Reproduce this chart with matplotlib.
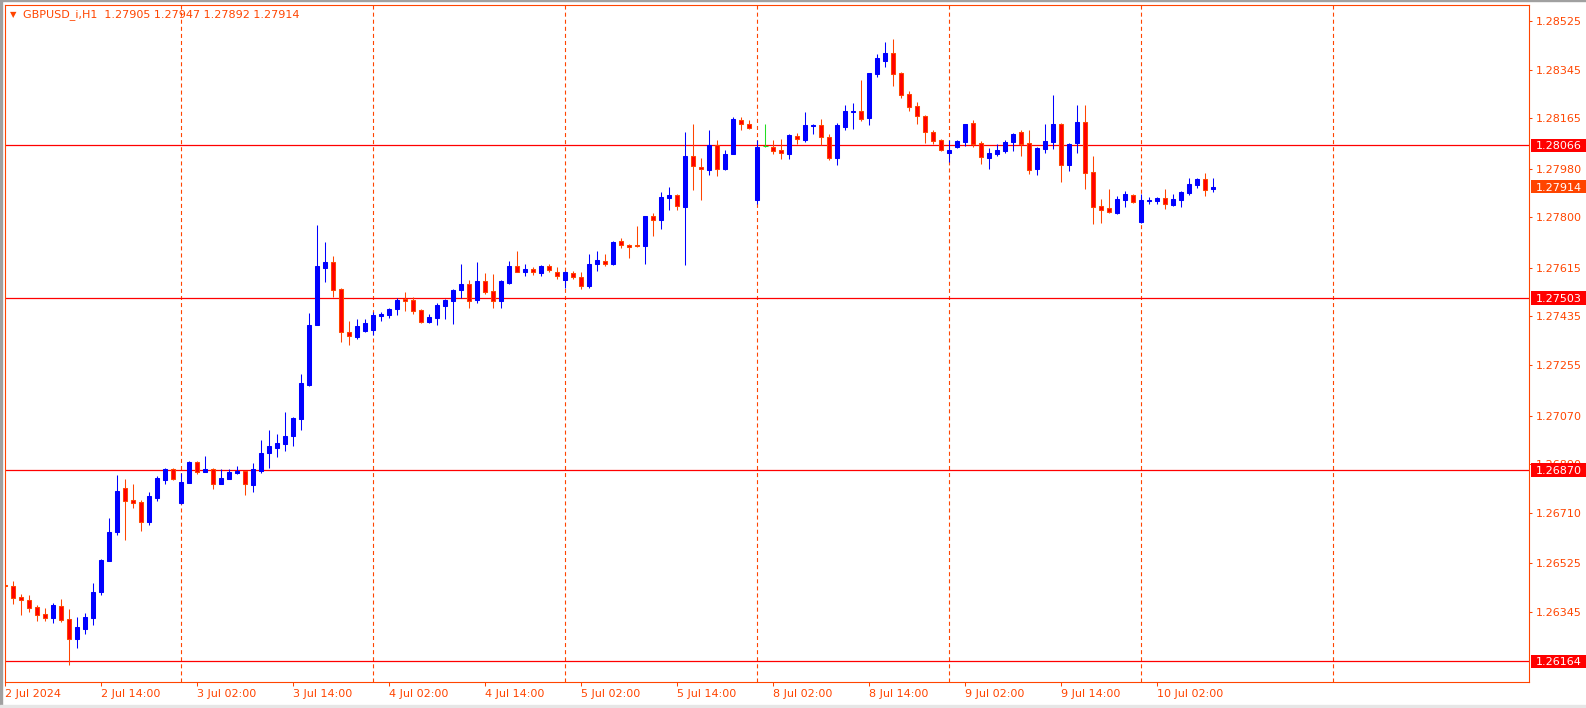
import numpy as np
import pandas as pd
import matplotlib
matplotlib.use("Agg")
import matplotlib.pyplot as plt
from matplotlib import transforms
from matplotlib.patches import Rectangle

plt.rcParams["font.family"] = ["DejaVu Sans"]
plt.rcParams["lines.scale_dashes"] = False

FG = "#FF4500"      # orange-red foreground (axes, text, bear outline)
BULL = "#0000FF"
BEAR = "#FF0000"
DOJI = "#22DD22"
LEVEL_COLOR = "#FF0000"

SYMBOL = "GBPUSD_i,H1"

# H1 bars, 2 Jul 02:00 -> 10 Jul 09:00
OPEN = [1.26446, 1.26442, 1.26401, 1.26390, 1.26365, 1.26339, 1.26325, 1.26368, 1.26320, 1.26248,
        1.26285, 1.26325, 1.26420, 1.26535, 1.26641, 1.26803, 1.26759, 1.26751, 1.26679, 1.26767,
        1.26833, 1.26873, 1.26748, 1.26823, 1.26899, 1.26863, 1.26873, 1.26819, 1.26837, 1.26859,
        1.26867, 1.26815, 1.26867, 1.26933, 1.26952, 1.26966, 1.26996, 1.27058, 1.27183, 1.27405,
        1.27615, 1.27635, 1.27536, 1.27378, 1.27360, 1.27382, 1.27386, 1.27437, 1.27441, 1.27463,
        1.27501, 1.27496, 1.27459, 1.27415, 1.27431, 1.27474, 1.27493, 1.27533, 1.27555, 1.27497,
        1.27566, 1.27529, 1.27493, 1.27558, 1.27621, 1.27600, 1.27610, 1.27596, 1.27620, 1.27599,
        1.27571, 1.27594, 1.27581, 1.27547, 1.27629, 1.27640, 1.27629, 1.27713, 1.27699, 1.27699,
        1.27695, 1.27805, 1.27792, 1.27872, 1.27883, 1.27840, 1.28026, 1.27986, 1.27976, 1.28067,
        1.27977, 1.28035, 1.28159, 1.28143, 1.27865, 1.28062, 1.28060, 1.28049, 1.28035, 1.28100,
        1.28087, 1.28138, 1.28141, 1.28097, 1.28020, 1.28134, 1.28190, 1.28192, 1.28168, 1.28330,
        1.28378, 1.28406, 1.28332, 1.28255, 1.28211, 1.28174, 1.28115, 1.28085, 1.28039, 1.28061,
        1.28079, 1.28148, 1.28073, 1.28020, 1.28034, 1.28046, 1.28079, 1.28115, 1.28074, 1.27980,
        1.28053, 1.28079, 1.28144, 1.27994, 1.28076, 1.28152, 1.27968, 1.27841, 1.27835, 1.27818,
        1.27865, 1.27883, 1.27784, 1.27861, 1.27862, 1.27872, 1.27847, 1.27865, 1.27891, 1.27921,
        1.27942, 1.27905]
HIGH = [1.26453, 1.26460, 1.26412, 1.26409, 1.26373, 1.26361, 1.26379, 1.26394, 1.26357, 1.26328,
        1.26342, 1.26453, 1.26540, 1.26693, 1.26852, 1.26836, 1.26819, 1.26759, 1.26788, 1.26847,
        1.26877, 1.26877, 1.26858, 1.26903, 1.26903, 1.26922, 1.26877, 1.26873, 1.26873, 1.26885,
        1.26867, 1.26895, 1.26981, 1.27017, 1.27002, 1.27083, 1.27066, 1.27223, 1.27448, 1.27772,
        1.27710, 1.27658, 1.27540, 1.27418, 1.27426, 1.27426, 1.27451, 1.27452, 1.27466, 1.27503,
        1.27525, 1.27507, 1.27463, 1.27444, 1.27485, 1.27500, 1.27536, 1.27629, 1.27570, 1.27636,
        1.27595, 1.27592, 1.27568, 1.27640, 1.27676, 1.27629, 1.27617, 1.27625, 1.27629, 1.27617,
        1.27601, 1.27603, 1.27599, 1.27665, 1.27676, 1.27665, 1.27713, 1.27724, 1.27702, 1.27769,
        1.27807, 1.27816, 1.27894, 1.27912, 1.27886, 1.28115, 1.28144, 1.28019, 1.28122, 1.28085,
        1.28049, 1.28170, 1.28170, 1.28159, 1.28085, 1.28144, 1.28085, 1.28089, 1.28108, 1.28111,
        1.28189, 1.28144, 1.28163, 1.28108, 1.28148, 1.28214, 1.28222, 1.28307, 1.28334, 1.28402,
        1.28447, 1.28458, 1.28336, 1.28266, 1.28225, 1.28178, 1.28122, 1.28089, 1.28085, 1.28084,
        1.28146, 1.28160, 1.28082, 1.28057, 1.28071, 1.28085, 1.28112, 1.28122, 1.28123, 1.28061,
        1.28144, 1.28251, 1.28149, 1.28073, 1.28214, 1.28214, 1.28026, 1.27868, 1.27905, 1.27879,
        1.27898, 1.27886, 1.27886, 1.27875, 1.27875, 1.27905, 1.27886, 1.27898, 1.27945, 1.27945,
        1.27964, 1.27947]
LOW = [1.26427, 1.26377, 1.26335, 1.26346, 1.26313, 1.26313, 1.26306, 1.26309, 1.26152, 1.26213,
       1.26265, 1.26298, 1.26409, 1.26533, 1.26630, 1.26611, 1.26729, 1.26645, 1.26667, 1.26756,
       1.26818, 1.26833, 1.26744, 1.26822, 1.26856, 1.26863, 1.26800, 1.26819, 1.26837, 1.26856,
       1.26777, 1.26789, 1.26859, 1.26878, 1.26918, 1.26941, 1.26959, 1.27018, 1.27180, 1.27405,
       1.27563, 1.27508, 1.27342, 1.27331, 1.27353, 1.27378, 1.27368, 1.27418, 1.27430, 1.27441,
       1.27455, 1.27444, 1.27410, 1.27411, 1.27404, 1.27426, 1.27407, 1.27502, 1.27466, 1.27485,
       1.27519, 1.27466, 1.27466, 1.27555, 1.27598, 1.27584, 1.27588, 1.27584, 1.27599, 1.27574,
       1.27541, 1.27573, 1.27536, 1.27540, 1.27604, 1.27621, 1.27625, 1.27689, 1.27652, 1.27692,
       1.27629, 1.27733, 1.27759, 1.27829, 1.27829, 1.27626, 1.27902, 1.27865, 1.27958, 1.27954,
       1.27976, 1.28033, 1.28123, 1.28127, 1.27850, 1.28059, 1.28035, 1.28017, 1.28017, 1.28072,
       1.28079, 1.28109, 1.28067, 1.28013, 1.27994, 1.28123, 1.28127, 1.28157, 1.28142, 1.28319,
       1.28356, 1.28286, 1.28241, 1.28193, 1.28146, 1.28076, 1.28072, 1.28045, 1.28004, 1.28057,
       1.28064, 1.28061, 1.27998, 1.27979, 1.28028, 1.28038, 1.28046, 1.28028, 1.27960, 1.27958,
       1.28039, 1.28053, 1.27932, 1.27972, 1.28036, 1.27906, 1.27777, 1.27781, 1.27818, 1.27814,
       1.27840, 1.27854, 1.27781, 1.27851, 1.27851, 1.27832, 1.27843, 1.27840, 1.27884, 1.27910,
       1.27880, 1.27892]
CLOSE = [1.26442, 1.26399, 1.26391, 1.26362, 1.26336, 1.26325, 1.26373, 1.26317, 1.26248, 1.26291,
         1.26328, 1.26420, 1.26538, 1.26641, 1.26792, 1.26756, 1.26749, 1.26679, 1.26774, 1.26840,
         1.26873, 1.26836, 1.26825, 1.26899, 1.26863, 1.26873, 1.26819, 1.26840, 1.26863, 1.26867,
         1.26819, 1.26873, 1.26932, 1.26959, 1.26969, 1.26995, 1.27062, 1.27190, 1.27404, 1.27621,
         1.27636, 1.27534, 1.27379, 1.27362, 1.27400, 1.27411, 1.27441, 1.27444, 1.27463, 1.27496,
         1.27493, 1.27456, 1.27415, 1.27433, 1.27477, 1.27496, 1.27533, 1.27555, 1.27493, 1.27566,
         1.27526, 1.27493, 1.27566, 1.27621, 1.27600, 1.27610, 1.27600, 1.27621, 1.27608, 1.27585,
         1.27599, 1.27581, 1.27547, 1.27629, 1.27643, 1.27629, 1.27710, 1.27700, 1.27692, 1.27695,
         1.27805, 1.27792, 1.27875, 1.27883, 1.27843, 1.28026, 1.27991, 1.27980, 1.28067, 1.27980,
         1.28035, 1.28163, 1.28146, 1.28131, 1.28060, 1.28062, 1.28046, 1.28039, 1.28104, 1.28090,
         1.28141, 1.28141, 1.28095, 1.28020, 1.28141, 1.28192, 1.28192, 1.28164, 1.28332, 1.28388,
         1.28406, 1.28330, 1.28252, 1.28208, 1.28175, 1.28116, 1.28083, 1.28047, 1.28049, 1.28082,
         1.28144, 1.28072, 1.28022, 1.28038, 1.28049, 1.28078, 1.28108, 1.28071, 1.27976, 1.28057,
         1.28082, 1.28144, 1.27994, 1.28071, 1.28152, 1.27965, 1.27840, 1.27829, 1.27821, 1.27868,
         1.27886, 1.27858, 1.27864, 1.27864, 1.27872, 1.27848, 1.27868, 1.27894, 1.27923, 1.27942,
         1.27902, 1.27914]

# horizontal levels drawn on the chart
LEVELS = [1.28066, 1.27503, 1.26870, 1.26164]

YTICKS = [1.28525, 1.28345, 1.28165, 1.27980, 1.27800, 1.27615, 1.27435,
          1.27255, 1.27070, 1.26890, 1.26710, 1.26525, 1.26345]

TICK_TIMES = ["2024-07-02 02:00", "2024-07-02 14:00", "2024-07-03 02:00", "2024-07-03 14:00",
              "2024-07-04 02:00", "2024-07-04 14:00", "2024-07-05 02:00", "2024-07-05 14:00",
              "2024-07-08 02:00", "2024-07-08 14:00", "2024-07-09 02:00", "2024-07-09 14:00",
              "2024-07-10 02:00"]
TICK_LABELS = ["2 Jul 2024", "2 Jul 14:00", "3 Jul 02:00", "3 Jul 14:00", "4 Jul 02:00",
               "4 Jul 14:00", "5 Jul 02:00", "5 Jul 14:00", "8 Jul 02:00", "8 Jul 14:00",
               "9 Jul 02:00", "9 Jul 14:00", "10 Jul 02:00"]

# hourly timeline without the weekend (extends into the empty future area)
times = pd.DatetimeIndex(
    list(pd.date_range("2024-07-02 02:00", "2024-07-05 23:00", freq="h"))
    + list(pd.date_range("2024-07-08 00:00", "2024-07-11 23:00", freq="h")))

o = np.array(OPEN)
h = np.array(HIGH)
l = np.array(LOW)
c = np.array(CLOSE)
x = np.arange(len(o))

W, H = 1586, 708
fig = plt.figure(figsize=(W / 100, H / 100), dpi=100)
fig.patch.set_facecolor("white")
ax_l, ax_r, ax_t, ax_b = 4.5, 1529, 5, 682
ax = fig.add_axes([ax_l / W, 1 - ax_b / H, (ax_r - ax_l) / W, (ax_b - ax_t) / H])
ax.set_facecolor("white")

# day separators
for pos in np.where(times.hour == 0)[0]:
    ax.axvline(pos, color=FG, lw=0.8, ls=(0, (2.9, 2.2)), zorder=1)

# horizontal levels
for lvl in LEVELS:
    ax.axhline(lvl, color=LEVEL_COLOR, lw=0.9, zorder=1.5)

# candles
up = c > o
dn = c < o
eq = c == o
wick_col = np.where(up, BULL, np.where(dn, FG, DOJI))
ax.vlines(x, l, h, colors=wick_col, lw=0.75, zorder=3)
body_lo = np.minimum(o, c)
body_h = np.abs(c - o)
ax.bar(x[up], body_h[up], bottom=body_lo[up], width=0.5, color=BULL,
       edgecolor=BULL, lw=0.75, zorder=4)
ax.bar(x[dn], body_h[dn], bottom=body_lo[dn], width=0.5, color=BEAR,
       edgecolor=FG, lw=0.75, zorder=4)
ax.hlines(o[eq], x[eq] - 0.3, x[eq] + 0.3, colors=DOJI, lw=0.75, zorder=4)

ax.set_xlim((ax_l - 5.3) / 8, (ax_r - 5.3) / 8)
ax.set_ylim(1.260881, 1.285829)

for sp in ax.spines.values():
    sp.set_color(FG)
    sp.set_linewidth(0.8)

ax.yaxis.tick_right()
ax.set_yticks(YTICKS)
ax.set_yticklabels([f"{v:.5f}" for v in YTICKS])
ax.tick_params(axis="y", colors=FG, labelsize=8, length=2.5, width=0.75, pad=2.5)

tick_pos = [times.get_loc(pd.Timestamp(t)) for t in TICK_TIMES]
ax.set_xticks(tick_pos)
ax.set_xticklabels(TICK_LABELS)
ax.tick_params(axis="x", colors=FG, labelsize=8, length=3, width=0.75, pad=2)
for lab in ax.get_xticklabels():
    lab.set_ha("left")

# price labels on the right scale
blend = transforms.blended_transform_factory(fig.transFigure, ax.transData)
y0, y1 = ax.get_ylim()
box_h = (y1 - y0) / (ax_b - ax_t) * 13.5


def price_tag(price, face):
    ax.add_patch(Rectangle((1531 / W, price - box_h / 2), 55 / W, box_h, transform=blend,
                           facecolor=face, edgecolor="none", clip_on=False, zorder=6))
    ax.text(1535.5 / W, price, f"{price:.5f}", transform=blend, color="white", fontsize=8,
            ha="left", va="center_baseline", zorder=7, clip_on=False)


for lvl in LEVELS:
    price_tag(lvl, LEVEL_COLOR)
price_tag(c[-1], FG)

# title
fig.text(10 / W, 1 - 15 / H, "\u25BC", fontsize=6, color=FG, ha="left", va="center")
fig.text(23 / W, 1 - 14.5 / H, f"{SYMBOL}  {o[-1]:.5f} {h[-1]:.5f} {l[-1]:.5f} {c[-1]:.5f}",
         fontsize=8, color=FG, ha="left", va="center")

# window frame edges
fig.add_artist(Rectangle((0, 0), 2 / W, 1, transform=fig.transFigure, color="#A0A0A0", zorder=0))
fig.add_artist(Rectangle((0, 1 - 1 / H), 1, 1 / H, transform=fig.transFigure, color="#A0A0A0", zorder=0))
fig.add_artist(Rectangle((0, 0), 1, 3 / H, transform=fig.transFigure, color="#E6E6E6", zorder=0))

fig.savefig("out.png", dpi=100)
